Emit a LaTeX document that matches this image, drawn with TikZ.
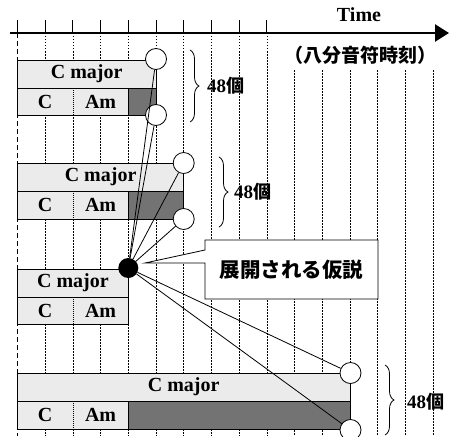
\documentclass[tikz,border=0pt]{standalone}
\usepackage{fontspec}
\setmainfont{Liberation Serif}
\newfontfamily\jp{Noto Sans CJK JP}
\usetikzlibrary{decorations.pathreplacing,arrows.meta}
\begin{document}
\begin{tikzpicture}[x=1pt,y=-1pt,
  gridline/.style={line width=0.6pt, dash pattern=on 1.5pt off 1.5pt},
  firstgrid/.style={line width=1.4pt, dash pattern=on 5pt off 3pt},
  light/.style={draw=black, line width=0.7pt, fill=gray!16},
  dark/.style={draw=black, line width=0.7pt, fill=black!55},
  sep/.style={line width=0.7pt, dash pattern=on 1pt off 1pt},
  chord/.style={font=\bfseries\fontsize{20}{20}\selectfont, inner sep=0pt},
  hollow/.style={circle, draw, fill=white, line width=0.8pt, minimum size=21pt, inner sep=0pt},
  blackdot/.style={circle, fill=black, minimum size=20pt, inner sep=0pt},
  link/.style={line width=0.8pt},
  bracket/.style={line width=0.8pt, decorate, decoration={brace, amplitude=9pt}},
  count/.style={font=\bfseries\fontsize{19}{19}\selectfont, inner sep=0pt, anchor=west},
]
\useasboundingbox (0,0) rectangle (449,436);
% grid
\draw[firstgrid] (17.5,33) -- (17.5,436);
\foreach \k in {1,...,9} \draw[gridline] ({17.5+27.7*\k},33) -- ({17.5+27.7*\k},436);
\foreach \k in {10,...,15} \draw[gridline] ({17.5+27.7*\k},70) -- ({17.5+27.7*\k},436);
% axis
\coordinate (axstart) at (10,33);
\coordinate (axend) at (449,33);
\draw[line width=2.4pt, -{Triangle[length=14pt,width=17pt]}] (axstart) -- (axend);
\foreach \k in {0,...,9} \draw[line width=1pt] ({17.5+27.7*\k},20) -- ({17.5+27.7*\k},33);
\node[font=\bfseries\fontsize{20}{20}\selectfont] (time) at (359,15) {Time};
\node[font=\jp\bfseries\fontsize{19}{19}\selectfont, inner sep=1pt] (unit) at (360,55) {（八分音符時刻）};

% block 1
\draw[light] (17.5,60) rectangle (156,88);
\draw[light] (17.5,88) rectangle (128.3,115);
\draw[dark] (128.3,88) rectangle (156,115);
\draw[sep] (72.9,88) -- (72.9,115);
\node[chord] (b1maj) at (86.7,74) {C major};
\node[chord] (b1c) at (45.2,101.5) {C};
\node[chord] (b1am) at (100.6,101.5) {Am};
% block 2
\draw[light] (17.5,163) rectangle (183.7,191);
\draw[light] (17.5,191) rectangle (128.3,219);
\draw[dark] (128.3,191) rectangle (183.7,219);
\draw[sep] (72.9,191) -- (72.9,219);
\node[chord] (b2maj) at (100.6,177) {C major};
\node[chord] (b2c) at (45.2,205) {C};
\node[chord] (b2am) at (100.6,205) {Am};
% block 3
\draw[light] (17.5,269) rectangle (128.3,297);
\draw[light] (17.5,297) rectangle (128.3,324);
\draw[sep] (72.9,297) -- (72.9,324);
\node[chord] (b3maj) at (72.9,283) {C major};
\node[chord] (b3c) at (45.2,310.5) {C};
\node[chord] (b3am) at (100.6,310.5) {Am};
% block 4
\draw[light] (17.5,373) rectangle (350,401);
\draw[light] (17.5,401) rectangle (128.3,429);
\draw[dark] (128.3,401) rectangle (350,429);
\draw[sep] (72.9,401) -- (72.9,429);
\node[chord] (b4maj) at (183.7,387) {C major};
\node[chord] (b4c) at (45.2,415) {C};
\node[chord] (b4am) at (100.6,415) {Am};

% braces
\draw[bracket] (190,50) -- (190,122);
\node[count] (n1) at (207,86) {48{\jp\bfseries\fontsize{18}{18}\selectfont 個}};
\draw[bracket] (219,157) -- (219,227);
\node[count] (n2) at (234,192) {48{\jp\bfseries\fontsize{18}{18}\selectfont 個}};
\draw[bracket] (385,365) -- (385,435);
\node[count] (n4) at (407,402) {48{\jp\bfseries\fontsize{18}{18}\selectfont 個}};

% callout
\coordinate (tip) at (145,263);
\draw[line width=0.8pt, fill=white] (205,240) -- (378,240) -- (378,299) -- (205,299) -- (205,263) -- (tip) -- (205,250) -- cycle;
\node[font=\jp\bfseries\fontsize{20.5}{20.5}\selectfont] (hyp) at (291.5,270) {展開される仮説};

% circles
\node[hollow] (c1a) at (156,59) {};
\node[hollow] (c1b) at (156,115) {};
\node[hollow] (c2a) at (183.7,163) {};
\node[hollow] (c2b) at (183.7,219) {};
\node[hollow] (c4a) at (350.5,373) {};
\node[hollow] (c4b) at (350.5,430) {};
\node[blackdot] (dot) at (128.3,268) {};
\foreach \t in {c1a,c1b,c2a,c2b,c4a,c4b} \draw[link] (dot) -- (\t);
\end{tikzpicture}
\end{document}
